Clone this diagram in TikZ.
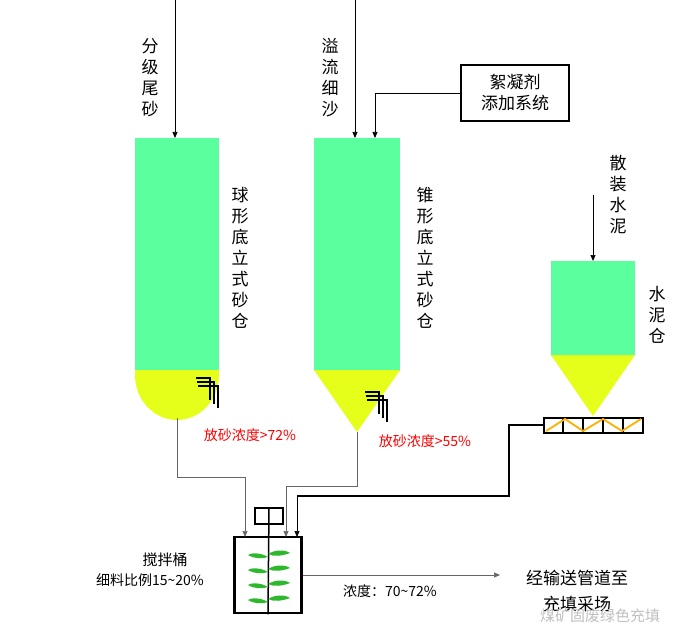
\documentclass[tikz,border=0pt]{standalone}
\usepackage{fontspec}
\setmainfont{Liberation Serif}
\newfontfamily\cjk{Noto Sans CJK SC}
\usetikzlibrary{arrows.meta}
\definecolor{sgreen}{HTML}{5CFF9E}
\definecolor{syellow}{HTML}{E6FF1A}
\definecolor{borange}{HTML}{FFB000}
\definecolor{bgreen}{HTML}{2EB82E}
\tikzset{
 lbl/.style={font=\cjk\fontsize{17}{21}\selectfont,align=center,inner sep=0pt},
 vlbl/.style={lbl,text width=18pt},
 red/.style={lbl,text=red,font=\cjk\fontsize{14}{16}\selectfont},
 thin/.style={draw=gray!80!black,line width=0.9pt},
 feed/.style={-{Triangle[length=6pt,width=5pt]},draw=black,line width=0.7pt},
}
\begin{document}
\begin{tikzpicture}[x=1pt,y=-1pt]
\useasboundingbox (0,0) rectangle (688,639);
% left silo
\fill[sgreen] (135,138) rectangle (219,371);
\fill[syellow] (135,370) -- (219,370) -- (219,375) arc[start angle=0,end angle=180,x radius=42,y radius=45] -- cycle;
\foreach \d in {0,4,8}{\draw[line width=2.5pt] (196+\d*0.2,378+\d) -- (210+\d,378+\d) -- (210+\d,400+\d);}
% middle silo
\fill[sgreen] (314,138) rectangle (400,371);
\fill[syellow] (314,370) -- (400,370) -- (357,432) -- cycle;
\foreach \d in {0,4,8}{\draw[line width=2.5pt] (365+\d*0.2,392+\d) -- (379+\d,392+\d) -- (379+\d,414+\d);}
% cement silo
\fill[sgreen] (551,261) rectangle (635,356);
\fill[syellow] (551,355) -- (635,355) -- (593,416) -- cycle;
% top feeds
\coordinate (t1) at (175,0); \coordinate (s1) at (175,138);
\draw[feed] (t1) -- (s1);
\coordinate (t2) at (355,0); \coordinate (s2) at (355,138);
\draw[feed] (t2) -- (s2);
\coordinate (t3) at (593,195); \coordinate (s3) at (593,261);
\draw[feed] (t3) -- (s3);
\node[draw,line width=1.5pt,lbl,minimum width=108pt,minimum height=56pt] (floc) at (515,93) {絮凝剂\\添加系统};
\coordinate (s2b) at (375,138);
\draw[feed] (floc.west) -| (s2b);
% labels
\node[vlbl] at (150,78) {分\\级\\尾\\砂};
\node[vlbl] at (330,78) {溢\\流\\细\\沙};
\node[vlbl] at (240,258) {球\\形\\底\\立\\式\\砂\\仓};
\node[vlbl] at (425,258) {锥\\形\\底\\立\\式\\砂\\仓};
\node[vlbl] at (618,195) {散\\装\\水\\泥};
\node[vlbl] at (657,315) {水\\泥\\仓};
\node[red] at (250,435) {放砂浓度>72\%};
\node[red] at (425,441) {放砂浓度>55\%};
% screw conveyor
\node[draw,line width=2pt,minimum width=99pt,minimum height=15pt,inner sep=0pt] (scr) at (593,425) {};
\foreach \x in {563,583,603,623}{\draw[line width=1.5pt] (\x,418) -- (\x,432);}
\draw[borange,line width=1.8pt] (546,431) -- (565,419) -- (583,431) -- (603,419) -- (622,431) -- (641,419);
% mixer
\node[draw,line width=2.5pt,minimum width=67pt,minimum height=76pt,inner sep=0pt] (mix) at (268,575) {};
\node[draw,line width=1.5pt,minimum width=28pt,minimum height=16pt,inner sep=0pt] (mot) at (269,516) {};
\draw[line width=1.5pt] (mot.north) -- (mix.south);
\foreach \y in {554,569,584,599}{
 \fill[bgreen] (268,\y+3) .. controls (260,\y-2) and (250,\y-1) .. (248,\y+1) .. controls (255,\y+5) and (262,\y+5) .. cycle;
 \fill[bgreen] (268,\y) .. controls (276,\y-5) and (286,\y-4) .. (290,\y-1) .. controls (282,\y+2) and (274,\y+3) .. cycle;
}
% feeds to mixer
\coordinate (m1) at (245,537); \coordinate (m2) at (286,537); \coordinate (m3) at (297,537);
\coordinate (b1) at (177,418); \coordinate (b2) at (357,432);
\draw[thin] (b1) |- (245,477);
\draw[thin,feed,draw=gray!80!black] (245,476.5) -- (m1);
\draw[thin] (b2) |- (286,486);
\draw[thin,feed,draw=gray!80!black] (286,485.5) -- (m2);
\draw[line width=2.5pt] (scr.west) -- (509,425) -- (509,496) -- (297,496);
\draw[feed] (297,495) -- (m3);
% output
\coordinate (out) at (500,575);
\draw[thin,feed,draw=gray!80!black] (mix.east |- 0,575) -- (out);
\node[lbl,font=\cjk\fontsize{15}{18}\selectfont] at (165,560) {搅拌桶};
\node[lbl,font=\cjk\fontsize{14}{17}\selectfont] at (150,580) {细料比例15\textasciitilde20\%};
\node[lbl,font=\cjk\fontsize{14}{17}\selectfont] at (390,591) {浓度：70\textasciitilde72\%};
\node[lbl] at (577,578) {经输送管道至};
\node[lbl] at (577,604) {充填采场};
\node[lbl,text=gray!50,font=\cjk\fontsize{15}{18}\selectfont] at (600,616) {煤矿固废绿色充填};
\end{tikzpicture}
\end{document}
